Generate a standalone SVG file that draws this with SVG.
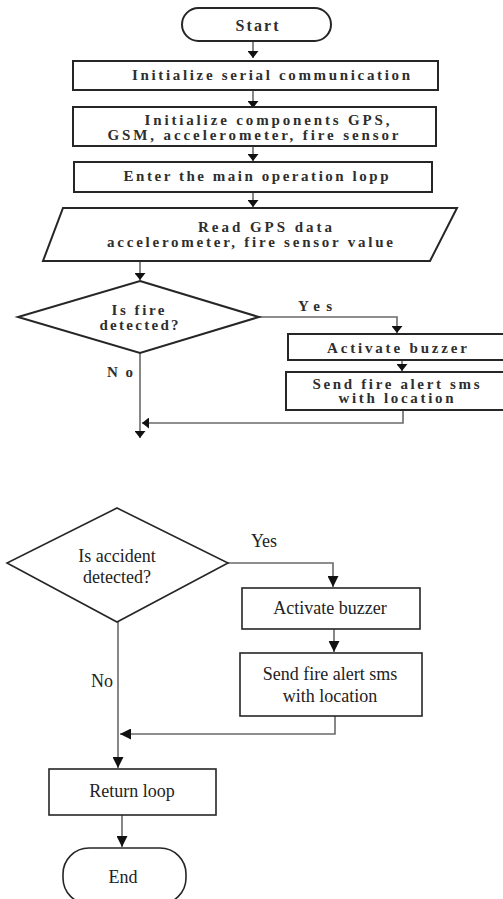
<svg xmlns="http://www.w3.org/2000/svg" width="503" height="899" viewBox="0 0 503 899">
<style>
.bg{fill:#ffffff}
.n1{fill:#ffffff;stroke:#262626;stroke-width:2}
.n2{fill:#ffffff;stroke:#262626;stroke-width:1.6}
.c{fill:none;stroke:#6a6a6a;stroke-width:1.6}
.t1{font-family:"Liberation Serif","Times New Roman",serif;font-size:15px;font-weight:bold;fill:#2e2e2e;text-anchor:middle}
.ts{font-size:16px}
.t2{font-family:"Liberation Serif","Times New Roman",serif;font-size:18px;fill:#222222;text-anchor:middle}
</style>
<defs>
<marker id="ah" viewBox="0 0 7 11" refX="7" refY="5.5" markerWidth="7" markerHeight="11" markerUnits="userSpaceOnUse" orient="auto">
<path d="M0,0 L7,5.5 L0,11 Z" fill="#111111"/>
</marker>
<marker id="ah2" viewBox="0 0 11 11" refX="11" refY="5.5" markerWidth="11" markerHeight="11" markerUnits="userSpaceOnUse" orient="auto">
<path d="M0,0 L11,5.5 L0,11 Z" fill="#111111"/>
</marker>
</defs>
<rect class="bg" x="0" y="0" width="503" height="899"/>

<g id="connectors">
<path class="c" d="M253,41 V58" marker-end="url(#ah)"/>
<path class="c" d="M253,90 V108" marker-end="url(#ah)"/>
<path class="c" d="M253,146 V161" marker-end="url(#ah)"/>
<path class="c" d="M253,192 V207" marker-end="url(#ah)"/>
<path class="c" d="M140,261 V280" marker-end="url(#ah)"/>
<path class="c" d="M259,317 H397 V333" marker-end="url(#ah)"/>
<path class="c" d="M402,360 V371" marker-end="url(#ah)"/>
<path class="c" d="M403,410 V423 H142" marker-end="url(#ah)"/>
<path class="c" d="M140,353 V438" marker-end="url(#ah)"/>
<path class="c" d="M228,563 H333 V587" marker-end="url(#ah2)"/>
<path class="c" d="M334,629 V652" marker-end="url(#ah2)"/>
<path class="c" d="M335,716 V734 H120" marker-end="url(#ah2)"/>
<path class="c" d="M118,622 V768" marker-end="url(#ah2)"/>
<path class="c" d="M122,815 V847" marker-end="url(#ah2)"/>
</g>

<g id="start">
<rect class="n1" x="182" y="8" width="149" height="33" rx="16.5"/>
<text class="t1 ts" x="257" y="30.5" textLength="43" lengthAdjust="spacing">Start</text>
</g>
<g id="init-serial">
<rect class="n1" x="73" y="61" width="365" height="29"/>
<text class="t1" x="271" y="79.5" textLength="278" lengthAdjust="spacing">Initialize serial communication</text>
</g>
<g id="init-components">
<rect class="n1" x="73" y="107" width="363" height="39"/>
<text class="t1" x="267" y="125" textLength="245" lengthAdjust="spacing">Initialize components GPS,</text>
<text class="t1" x="253" y="139.5" textLength="291" lengthAdjust="spacing">GSM, accelerometer, fire sensor</text>
</g>
<g id="main-loop">
<rect class="n1" x="74" y="162" width="358" height="30"/>
<text class="t1" x="256" y="180.5" textLength="265" lengthAdjust="spacing">Enter the main operation lopp</text>
</g>
<g id="read-data">
<polygon class="n1" points="63,208 457,208 430,261 43,261"/>
<text class="t1" x="265" y="232" textLength="134" lengthAdjust="spacing">Read GPS data</text>
<text class="t1" x="250" y="247" textLength="286" lengthAdjust="spacing">accelerometer, fire sensor value</text>
</g>
<g id="fire-decision">
<polygon class="n1" points="140,281 259,317 140,353 18,317"/>
<text class="t1" x="138" y="315" textLength="53" lengthAdjust="spacing">Is fire</text>
<text class="t1" x="139" y="330" textLength="79" lengthAdjust="spacing">detected?</text>
</g>
<g id="fire-labels">
<text class="t1" x="315" y="311" textLength="34" lengthAdjust="spacing">Yes</text>
<text class="t1" x="120" y="377" textLength="26" lengthAdjust="spacing">No</text>
</g>
<g id="fire-buzzer">
<rect class="n1" x="288" y="334" width="216" height="26"/>
<text class="t1" x="397" y="352.5" textLength="140" lengthAdjust="spacing">Activate buzzer</text>
</g>
<g id="fire-sms">
<rect class="n1" x="286" y="372" width="218" height="38"/>
<text class="t1" x="396" y="388.5" textLength="167" lengthAdjust="spacing">Send fire alert sms</text>
<text class="t1" x="396" y="403" textLength="115" lengthAdjust="spacing">with location</text>
</g>

<g id="accident-decision">
<polygon class="n2" points="117,508 228,563 117,622 7,563"/>
<text class="t2" x="117" y="562">Is accident</text>
<text class="t2" x="117" y="583">detected?</text>
</g>
<g id="accident-labels">
<text class="t2" x="264" y="547">Yes</text>
<text class="t2" x="102" y="687">No</text>
</g>
<g id="accident-buzzer">
<rect class="n2" x="242" y="588" width="178" height="41"/>
<text class="t2" x="330" y="614">Activate buzzer</text>
</g>
<g id="accident-sms">
<rect class="n2" x="240" y="653" width="182" height="63"/>
<text class="t2" x="330" y="680">Send fire alert sms</text>
<text class="t2" x="330" y="702">with location</text>
</g>
<g id="return-loop">
<rect class="n2" x="49" y="769" width="167" height="46"/>
<text class="t2" x="132" y="797">Return loop</text>
</g>
<g id="end">
<rect class="n2" x="63" y="848" width="123" height="56" rx="26"/>
<text class="t2" x="123" y="883">End</text>
</g>
</svg>
